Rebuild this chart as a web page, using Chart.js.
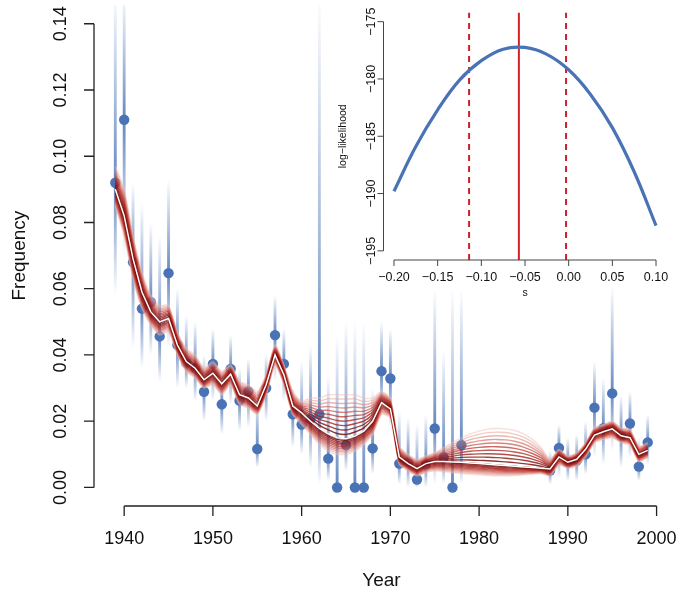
<!DOCTYPE html>
<html>
<head>
<meta charset="utf-8">
<script src="https://cdn.jsdelivr.net/npm/chart.js@4.4.0/dist/chart.umd.min.js"></script>
<style>
  html, body { margin: 0; padding: 0; background: #fff; }
  #wrap { position: relative; width: 680px; height: 599px; overflow: hidden; }
  #main { position: absolute; left: 0; top: 0; }
  #inset { position: absolute; left: 300px; top: 0; }
</style>
</head>
<body>
<div id="wrap">
  <canvas id="main" width="680" height="599"></canvas>
  <canvas id="inset" width="380" height="310"></canvas>
</div>
<script>
// ---- main panel: observed frequencies ----
const years = [1939, 1940, 1941, 1942, 1943, 1944, 1945, 1946, 1947, 1948, 1949, 1950, 1951,
  1952, 1953, 1954, 1955, 1956, 1957, 1958, 1959, 1960, 1961, 1962, 1963, 1964, 1965, 1966,
  1967, 1968, 1969, 1970, 1971, 1972, 1973, 1974, 1975, 1976, 1977, 1978,
  1988, 1989, 1990, 1991, 1992, 1993, 1994, 1995, 1996, 1997, 1998, 1999];
const freq = [0.092, 0.111, 0.068, 0.054, 0.056, 0.0456, 0.0647, 0.043, 0.0376, 0.036, 0.0289,
  0.0373, 0.0251, 0.0358, 0.0262, 0.029, 0.0116, 0.030, 0.046, 0.0373, 0.0221, 0.019, 0.0207,
  0.0221, 0.0087, 0.0, 0.0128, 0.0, 0.0, 0.0118, 0.0351, 0.0329, 0.0072, 0.0076, 0.0024, 0.0068,
  0.0178, 0.0091, 0.0, 0.0128,
  0.0051, 0.0119, 0.0076, 0.0081, 0.0100, 0.0241, 0.0179, 0.0284, 0.0156, 0.0193, 0.0063, 0.0136];
// error bar ends
const barLow = [0.058, 0.070, 0.042, 0.036, 0.040, 0.032, 0.042, 0.030, 0.030, 0.026, 0.020,
  0.026, 0.016, 0.025, 0.017, 0.018, 0.006, 0.020, 0.032, 0.026, 0.012, 0.010, 0.006, 0.001,
  0.002, 0.0, 0.005, 0.0, 0.0, 0.004, 0.022, 0.018, 0.001, 0.0, 0.0, 0.0, 0.001, 0.001, 0.0, 0.001,
  0.001, 0.003, 0.002, 0.002, 0.004, 0.009, 0.007, 0.011, 0.006, 0.009, 0.002, 0.007];
const barHigh = [0.150, 0.150, 0.092, 0.086, 0.080, 0.076, 0.093, 0.060, 0.052, 0.050, 0.040,
  0.048, 0.036, 0.046, 0.036, 0.039, 0.028, 0.040, 0.058, 0.048, 0.030, 0.038, 0.043, 0.150,
  0.034, 0.046, 0.050, 0.050, 0.050, 0.030, 0.050, 0.048, 0.023, 0.021, 0.019, 0.022, 0.060,
  0.041, 0.060, 0.060,
  0.011, 0.019, 0.015, 0.016, 0.020, 0.038, 0.033, 0.061, 0.028, 0.029, 0.015, 0.022];

// fitted trajectory: white centre line and the outer edges of the red fan
const fanYears = [1939, 1940, 1941, 1942, 1943, 1944, 1945, 1946, 1947, 1948, 1949, 1950,
  1951, 1952, 1953, 1954, 1955, 1956, 1957, 1958, 1959, 1960, 1961, 1962, 1963, 1964, 1965,
  1966, 1967, 1968, 1969, 1970, 1971, 1972, 1973, 1974, 1975, 1976, 1977, 1978, 1979, 1980,
  1981, 1982, 1983, 1984, 1985, 1986, 1987, 1988, 1989, 1990, 1991, 1992, 1993, 1994, 1995,
  1996, 1997, 1998, 1999];
const fanCenter = [0.090, 0.082, 0.069, 0.059, 0.053, 0.050, 0.051, 0.043, 0.038, 0.036, 0.0325,
  0.0345, 0.0313, 0.0342, 0.028, 0.027, 0.0246, 0.031, 0.040, 0.034, 0.0246, 0.0225, 0.020,
  0.0178, 0.0162, 0.015, 0.0147, 0.0155, 0.017, 0.020, 0.0256, 0.0237, 0.0092, 0.0072, 0.0057,
  0.0072, 0.0078, 0.0078, 0.0077, 0.0076, 0.0074, 0.0072, 0.0070, 0.0068, 0.0066, 0.0064,
  0.0062, 0.0060, 0.0058, 0.0056, 0.0092, 0.0076, 0.0085, 0.0115, 0.0158, 0.0168, 0.0177,
  0.0156, 0.0150, 0.0100, 0.0112];
const fanUpper = [0.097, 0.090, 0.076, 0.065, 0.058, 0.055, 0.055, 0.047, 0.042, 0.040, 0.036,
  0.038, 0.035, 0.037, 0.032, 0.031, 0.029, 0.034, 0.043, 0.037, 0.029, 0.026, 0.027, 0.027,
  0.028, 0.028, 0.028, 0.028, 0.027, 0.027, 0.029, 0.027, 0.0125, 0.010, 0.0085, 0.0095,
  0.0105, 0.012, 0.0135, 0.015, 0.0162, 0.017, 0.0176, 0.0178, 0.0177, 0.0172, 0.0162, 0.0145,
  0.012, 0.0085, 0.0115, 0.0095, 0.0105, 0.0135, 0.018, 0.019, 0.020, 0.018, 0.0175, 0.0125,
  0.0135];
const fanLower = [0.085, 0.076, 0.063, 0.054, 0.049, 0.046, 0.047, 0.040, 0.035, 0.033, 0.030,
  0.031, 0.028, 0.031, 0.025, 0.024, 0.022, 0.028, 0.037, 0.031, 0.022, 0.019, 0.016, 0.013,
  0.011, 0.010, 0.010, 0.011, 0.013, 0.016, 0.022, 0.021, 0.007, 0.005, 0.0035, 0.0045, 0.005,
  0.0048, 0.0045, 0.0042, 0.004, 0.0038, 0.0036, 0.0035, 0.0035, 0.0036, 0.0038, 0.004, 0.0042,
  0.0035, 0.0068, 0.0058, 0.0065, 0.0092, 0.0135, 0.0145, 0.015, 0.0135, 0.0128, 0.0078, 0.009];

const yearTicks = [1940, 1950, 1960, 1970, 1980, 1990, 2000];
const freqTicks = [0, 0.02, 0.04, 0.06, 0.08, 0.10, 0.12, 0.14];

// ---- inset: profile log-likelihood of s ----
const sValues = [-0.2, -0.175, -0.15, -0.125, -0.1, -0.075, -0.05, -0.025, 0, 0.025, 0.05, 0.075, 0.1];
const logLik = [-189.8, -185.9, -182.7, -180.1, -178.4, -177.4, -177.25, -177.85, -179.2,
  -181.35, -184.25, -188.1, -192.8];
const sHat = -0.057;
const sLow = -0.114;
const sHigh = -0.003;
const sTicks = [-0.2, -0.15, -0.1, -0.05, 0, 0.05, 0.1];
const llTicks = [-195, -190, -185, -180, -175];

const BLUE = "#4a73b5";
const FONT = "'Liberation Sans', Arial, sans-serif";

// R style axes: line only between first and last tick, ticks pointing out
function rAxes(cfg) {
  return {
    id: "rAxes",
    afterDraw(chart) {
      const { ctx, chartArea: a, scales } = chart;
      const x = scales.x, y = scales.y;
      const fmt = (v, d) => v.toFixed(d).replace("-", "\u2212");
      ctx.save();
      ctx.strokeStyle = cfg.color;
      ctx.lineWidth = cfg.lw;
      ctx.beginPath();
      const xa = x.getPixelForValue(cfg.xTicks[0]);
      const xb = x.getPixelForValue(cfg.xTicks[cfg.xTicks.length - 1]);
      ctx.moveTo(xa, a.bottom);
      ctx.lineTo(xb, a.bottom);
      cfg.xTicks.forEach((v) => {
        const px = x.getPixelForValue(v);
        ctx.moveTo(px, a.bottom);
        ctx.lineTo(px, a.bottom + cfg.tick);
      });
      const ya = y.getPixelForValue(cfg.yTicks[0]);
      const yb = y.getPixelForValue(cfg.yTicks[cfg.yTicks.length - 1]);
      ctx.moveTo(a.left, ya);
      ctx.lineTo(a.left, yb);
      cfg.yTicks.forEach((v) => {
        const py = y.getPixelForValue(v);
        ctx.moveTo(a.left, py);
        ctx.lineTo(a.left - cfg.tick, py);
      });
      ctx.stroke();

      ctx.fillStyle = "#111";
      ctx.textAlign = "center";
      ctx.textBaseline = "middle";
      ctx.font = cfg.tickFont;
      cfg.xTicks.forEach((v) => {
        ctx.fillText(fmt(v, cfg.xDigits), x.getPixelForValue(v), a.bottom + cfg.xLab);
      });
      cfg.yTicks.forEach((v) => {
        ctx.save();
        ctx.translate(a.left - cfg.yLab, y.getPixelForValue(v));
        ctx.rotate(-Math.PI / 2);
        ctx.fillText(fmt(v, cfg.yDigits), 0, 0);
        ctx.restore();
      });

      ctx.font = cfg.titleFont;
      ctx.fillText(cfg.xTitle, (a.left + a.right) / 2, a.bottom + cfg.xTitleOff);
      ctx.save();
      ctx.translate(a.left - cfg.yTitleOff, (a.top + a.bottom) / 2);
      ctx.rotate(-Math.PI / 2);
      ctx.fillText(cfg.yTitle, 0, 0);
      ctx.restore();
      ctx.restore();
    },
  };
}

// error bar fades out from the point towards both ends
function barGradient(context) {
  const chart = context.chart;
  if (!chart.chartArea) return BLUE;
  const i = context.dataIndex;
  const ys = chart.scales.y;
  const top = ys.getPixelForValue(barHigh[i]);
  const bot = ys.getPixelForValue(barLow[i]);
  const mid = ys.getPixelForValue(freq[i]);
  if (bot - top < 2) return BLUE;
  const f = Math.min(1, Math.max(0, (mid - top) / (bot - top)));
  const g = chart.ctx.createLinearGradient(0, top, 0, bot);
  g.addColorStop(0, "rgba(74,115,181,0)");
  g.addColorStop(f, "rgba(74,115,181,0.85)");
  g.addColorStop(1, "rgba(74,115,181,0)");
  return g;
}

// colour of a fan line: dark red in the middle, red, then pale pink at the edge
function fanColor(t) {
  const stops = [[105, 0, 0, 0.85], [185, 40, 32, 0.7], [240, 190, 180, 0.5]];
  const s = t < 0.5 ? 0 : 1;
  const u = t < 0.5 ? t / 0.5 : (t - 0.5) / 0.5;
  const c = stops[s].map((v, j) => v + (stops[s + 1][j] - v) * u);
  return `rgba(${Math.round(c[0])},${Math.round(c[1])},${Math.round(c[2])},${c[3].toFixed(2)})`;
}

// Fan of trajectories between the centre line and the outer edges
const FAN_STEPS = 10;
const fanSets = [];
for (let k = -FAN_STEPS; k <= FAN_STEPS; k++) {
  const t = Math.abs(k) / FAN_STEPS;
  const edge = k >= 0 ? fanUpper : fanLower;
  fanSets.push({
    type: "line",
    data: fanYears.map((yr, i) => ({ x: yr, y: fanCenter[i] + t * (edge[i] - fanCenter[i]) })),
    borderColor: fanColor(t),
    borderWidth: 1.4,
    pointRadius: 0,
    tension: 0.2,
    order: 100 + Math.abs(k) * 10,
  });
}

new Chart(document.getElementById("main"), {
  type: "line",
  data: {
    datasets: [
      {
        type: "line",
        data: fanYears.map((yr, i) => ({ x: yr, y: fanCenter[i] })),
        borderColor: "#ffffff",
        borderWidth: 1.5,
        pointRadius: 0,
        tension: 0,
        order: 1,
      },
      ...fanSets,
      {
        type: "line",
        data: years.map((yr, i) => ({ x: yr, y: freq[i] })),
        showLine: false,
        pointRadius: 5.2,
        pointBackgroundColor: BLUE,
        pointBorderWidth: 0,
        order: 900,
      },
      {
        type: "bar",
        data: years.map((yr, i) => ({ x: yr, y: [barLow[i], barHigh[i]] })),
        backgroundColor: barGradient,
        barThickness: 2.2,
        grouped: false,
        order: 1000,
      },
    ],
  },
  options: {
    responsive: false,
    animation: false,
    events: [],
    layout: { padding: { left: 94, right: 11, top: 1, bottom: 93 } },
    plugins: { legend: { display: false }, tooltip: { enabled: false } },
    scales: {
      x: { type: "linear", min: 1936.6, max: 2001.4, offset: false, display: false },
      y: { type: "linear", min: -0.0056, max: 0.1456, display: false },
    },
  },
  plugins: [
    rAxes({
      xTicks: yearTicks, yTicks: freqTicks, xDigits: 0, yDigits: 2,
      color: "#222", lw: 1.3, tick: 10,
      tickFont: `18px ${FONT}`, titleFont: `19px ${FONT}`,
      xLab: 33, yLab: 33, xTitle: "Year", yTitle: "Frequency",
      xTitleOff: 75, yTitleOff: 74,
    }),
  ],
});

new Chart(document.getElementById("inset"), {
  type: "line",
  data: {
    datasets: [
      {
        data: sValues.map((s, i) => ({ x: s, y: logLik[i] })),
        borderColor: BLUE,
        borderWidth: 3.2,
        pointRadius: 0,
        tension: 0.4,
        order: 1,
      },
      {
        data: [{ x: sHat, y: -195.8 }, { x: sHat, y: -174.2 }],
        borderColor: "#d91f26",
        borderWidth: 2,
        pointRadius: 0,
        order: 2,
      },
      {
        data: [{ x: sLow, y: -195.8 }, { x: sLow, y: -174.2 }],
        borderColor: "#c8202c",
        borderWidth: 2,
        borderDash: [6, 5],
        pointRadius: 0,
        order: 3,
      },
      {
        data: [{ x: sHigh, y: -195.8 }, { x: sHigh, y: -174.2 }],
        borderColor: "#c8202c",
        borderWidth: 2,
        borderDash: [6, 5],
        pointRadius: 0,
        order: 4,
      },
    ],
  },
  options: {
    responsive: false,
    animation: false,
    events: [],
    layout: { padding: { left: 83.5, right: 13.5, top: 12.5, bottom: 50 } },
    plugins: { legend: { display: false }, tooltip: { enabled: false } },
    scales: {
      x: { type: "linear", min: -0.212, max: 0.112, display: false },
      y: { type: "linear", min: -195.8, max: -174.2, display: false },
    },
  },
  plugins: [
    rAxes({
      xTicks: sTicks, yTicks: llTicks, xDigits: 2, yDigits: 0,
      color: "#444", lw: 1, tick: 6,
      tickFont: `12.5px ${FONT}`, titleFont: `10.5px ${FONT}`,
      xLab: 18, yLab: 12, xTitle: "s", yTitle: "log\u2212likelihood",
      xTitleOff: 33, yTitleOff: 40,
    }),
  ],
});
</script>
</body>
</html>
